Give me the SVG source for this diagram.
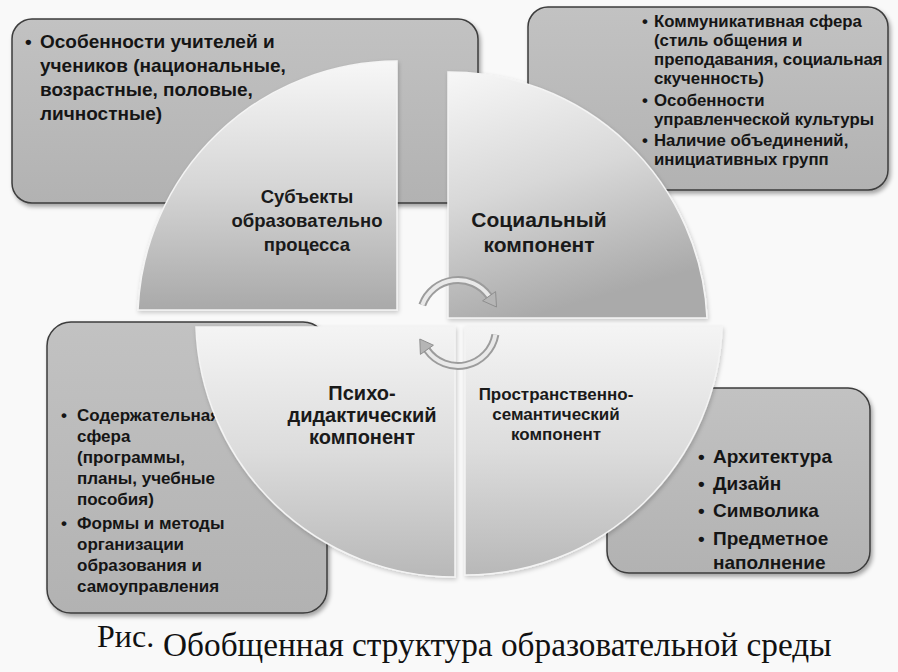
<svg xmlns="http://www.w3.org/2000/svg" width="898" height="672" viewBox="0 0 898 672">
<defs>
<style>
.box{stroke:#3c3c3c;stroke-width:1.5;filter:url(#sh)}
.quad{stroke:#f4f4f4;stroke-width:1.5;filter:url(#sh2)}
.t{font-family:"Liberation Sans","DejaVu Sans",sans-serif;font-weight:bold;fill:#151515}
.lbl{font-family:"Liberation Sans","DejaVu Sans",sans-serif;font-weight:bold;fill:#1a1a1a;text-anchor:middle}
.cap{font-family:"Liberation Serif","Times New Roman",serif;fill:#111}
.arcO{fill:none;stroke:#9c9c9c;stroke-width:8}
.arcI{fill:none;stroke:#e9e9e9;stroke-width:4}
.head{fill:#b5b5b5;stroke:#8e8e8e;stroke-width:1}
</style>
<filter id="sh" x="-10%" y="-10%" width="125%" height="125%">
<feDropShadow dx="2" dy="3" stdDeviation="2" flood-color="#000" flood-opacity="0.35"/>
</filter>
<filter id="sh2" x="-10%" y="-10%" width="125%" height="125%">
<feDropShadow dx="1" dy="2" stdDeviation="2" flood-color="#000" flood-opacity="0.2"/>
</filter>
<linearGradient id="gBox" x1="0" y1="0" x2="0" y2="1">
<stop offset="0" stop-color="#c2c2c2"/>
<stop offset="1" stop-color="#b2b2b2"/>
</linearGradient>
<linearGradient id="gTL" x1="0" y1="0" x2="0" y2="1">
<stop offset="0" stop-color="#f7f7f7"/>
<stop offset="0.5" stop-color="#d6d6d6"/>
<stop offset="1" stop-color="#a9a9a9"/>
</linearGradient>
<linearGradient id="gTR" x1="0" y1="0" x2="0.3" y2="1">
<stop offset="0" stop-color="#f7f7f7"/>
<stop offset="0.5" stop-color="#d8d8d8"/>
<stop offset="1" stop-color="#aaaaaa"/>
</linearGradient>
<linearGradient id="gB" x1="0" y1="0" x2="0" y2="1">
<stop offset="0" stop-color="#f4f4f4"/>
<stop offset="0.5" stop-color="#dcdcdc"/>
<stop offset="1" stop-color="#b8b8b8"/>
</linearGradient>
</defs>
<rect x="0" y="0" width="898" height="672" fill="#f9f9f9"/>

<g id="box-subjects">
<rect class="box" x="12" y="19" width="466" height="184" rx="20" fill="url(#gBox)"/>
<text class="t" font-size="19"><tspan x="25" y="48">•</tspan><tspan x="40" y="48">Особенности учителей и</tspan><tspan x="40" y="72">учеников (национальные,</tspan><tspan x="40" y="96">возрастные, половые,</tspan><tspan x="40" y="120">личностные)</tspan></text>
</g>

<g id="box-social">
<rect class="box" x="528" y="7" width="360" height="183" rx="20" fill="url(#gBox)"/>
<text class="t" font-size="16.8"><tspan x="642" y="27">•</tspan><tspan x="654" y="27">Коммуникативная сфера</tspan><tspan x="654" y="46">(стиль общения и</tspan><tspan x="654" y="65">преподавания, социальная</tspan><tspan x="654" y="84">скученность)</tspan><tspan x="642" y="106">•</tspan><tspan x="654" y="106">Особенности</tspan><tspan x="654" y="125">управленческой культуры</tspan><tspan x="642" y="146">•</tspan><tspan x="654" y="146">Наличие объединений,</tspan><tspan x="654" y="165">инициативных групп</tspan></text>
</g>

<g id="box-psycho">
<rect class="box" x="47" y="322" width="280" height="291" rx="24" fill="url(#gBox)"/>
<text class="t" font-size="17"><tspan x="61" y="421">•</tspan><tspan x="77" y="421">Содержательная</tspan><tspan x="77" y="442">сфера</tspan><tspan x="77" y="463">(программы,</tspan><tspan x="77" y="484">планы, учебные</tspan><tspan x="77" y="505">пособия)</tspan><tspan x="61" y="529">•</tspan><tspan x="77" y="529">Формы и методы</tspan><tspan x="77" y="550">организации</tspan><tspan x="77" y="571">образования и</tspan><tspan x="77" y="592">самоуправления</tspan></text>
</g>

<g id="box-spatial">
<rect class="box" x="607" y="388" width="263" height="185" rx="22" fill="url(#gBox)"/>
<text class="t" font-size="19"><tspan x="698" y="463">•</tspan><tspan x="713" y="463">Архитектура</tspan><tspan x="698" y="490">•</tspan><tspan x="713" y="490">Дизайн</tspan><tspan x="698" y="517">•</tspan><tspan x="713" y="517">Символика</tspan><tspan x="698" y="545">•</tspan><tspan x="713" y="545">Предметное</tspan><tspan x="713" y="569">наполнение</tspan></text>
</g>

<g id="quad-subjects">
<path class="quad" d="M397,310 L138,310 A260,260 0 0 1 397,61 Z" fill="url(#gTL)"/>
<text class="lbl" font-size="18.5"><tspan x="307" y="203">Субъекты</tspan><tspan x="307" y="227">образовательно</tspan><tspan x="307" y="251">процесса</tspan></text>
</g>

<g id="quad-social">
<path class="quad" d="M448,318 L448,72 A258,258 0 0 1 707,318 Z" fill="url(#gTR)"/>
<text class="lbl" font-size="21"><tspan x="539" y="227">Социальный</tspan><tspan x="539" y="252">компонент</tspan></text>
</g>

<g id="quad-psycho">
<path class="quad" d="M455,327 L196,327 A259,259 0 0 0 455,577 Z" fill="url(#gB)"/>
<text class="lbl" font-size="20"><tspan x="362" y="400">Психо-</tspan><tspan x="362" y="422">дидактический</tspan><tspan x="362" y="444">компонент</tspan></text>
</g>

<g id="quad-spatial">
<path class="quad" d="M465,327 L465,575 A257,257 0 0 0 722,327 Z" fill="url(#gB)"/>
<text class="lbl" font-size="17"><tspan x="556" y="400">Пространственно-</tspan><tspan x="556" y="420">семантический</tspan><tspan x="556" y="440">компонент</tspan></text>
</g>

<g id="connectors">
<path class="arcO" d="M422.3,305 A38,38 0 0 1 489.1,296.2"/>
<path class="arcI" d="M422.3,305 A38,38 0 0 1 489.1,296.2"/>
<polygon class="head" points="495.6,291.6 482.6,300.8 496.5,307"/>
<path class="arcO" d="M495.4,334.6 A38,38 0 0 1 426.9,349.8"/>
<path class="arcI" d="M495.4,334.6 A38,38 0 0 1 426.9,349.8"/>
<polygon class="head" points="420.4,354.4 433.4,345.2 419.8,339"/>
</g>

<text class="cap" font-size="32" x="97" y="647">Рис.</text>
<text class="cap" font-size="33.3" x="163" y="656">Обобщенная структура образовательной среды</text>
</svg>
